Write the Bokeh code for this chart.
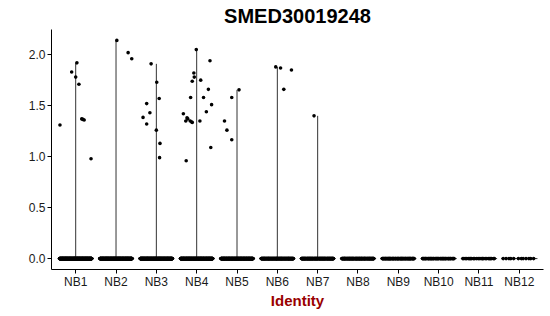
from bokeh.plotting import figure
from bokeh.models import FixedTicker
from bokeh.embed import file_html
from bokeh.resources import INLINE

categories = ["NB1", "NB2", "NB3", "NB4", "NB5", "NB6", "NB7", "NB8", "NB9", "NB10", "NB11", "NB12"]

# number of cells with zero expression per identity (estimated)
zero_counts = [300, 280, 260, 250, 220, 150, 140, 120, 80, 50, 25, 12]

# non-zero expression values per identity
nz_values = {
    "NB1": [1.31, 1.83, 1.92, 1.78, 1.71, 1.37, 1.365, 1.36, 0.98],
    "NB2": [2.14, 2.02, 1.96],
    "NB3": [1.91, 1.73, 1.57, 1.52, 1.43, 1.385, 1.32, 1.26, 1.13, 0.99],
    "NB4": [2.05, 1.94, 1.82, 1.78, 1.74, 1.75, 1.66, 1.58, 1.58, 1.51, 1.44,
            1.42, 1.38, 1.37, 1.35, 1.35, 1.34, 1.335, 1.35, 1.09, 0.96],
    "NB5": [1.655, 1.58, 1.35, 1.26, 1.165],
    "NB6": [1.88, 1.87, 1.85, 1.66],
    "NB7": [1.40],
}
# horizontal jitter of those points (category units)
nz_jitter = {
    "NB1": [-0.39, -0.10, 0.03, 0.0, 0.08, 0.15, 0.18, 0.21, 0.38],
    "NB2": [0.02, 0.30, 0.39],
    "NB3": [-0.13, 0.01, 0.07, -0.24, -0.16, -0.33, -0.24, 0.0, 0.09, 0.08],
    "NB4": [-0.01, 0.33, -0.07, -0.06, -0.11, 0.10, 0.29, -0.15, 0.17, 0.37, 0.24,
            -0.33, -0.24, -0.22, -0.27, -0.16, -0.12, -0.11, 0.08, 0.35, -0.26],
    "NB5": [0.05, -0.13, -0.31, -0.25, -0.13],
    "NB6": [-0.04, 0.08, 0.35, 0.16],
    "NB7": [-0.09],
}

y_ticks = [0.0, 0.5, 1.0, 1.5, 2.0]

# build point table
xs, ys = [], []
for i, cat in enumerate(categories):
    n = zero_counts[i]
    for k in range(n):
        off = ((k * 0.6180339887) % 1.0) * 0.8 - 0.4
        xs.append(i + 1 + off)
        ys.append(0.0)
    for v, j in zip(nz_values.get(cat, []), nz_jitter.get(cat, [])):
        xs.append(i + 1 + j)
        ys.append(v)

# flattened violins: vertical spine from 0 to max, horizontal base at 0
vx, vy0, vy1 = [], [], []
for i, cat in enumerate(categories):
    vals = nz_values.get(cat, [])
    if vals:
        vx.append(i + 1)
        vy0.append(0.0)
        vy1.append(max(vals))
hx0 = [i + 1 - 0.45 for i in range(len(categories))]
hx1 = [i + 1 + 0.45 for i in range(len(categories))]
hy = [0.0] * len(categories)

all_max = max(max(v) for v in nz_values.values())
pad = all_max * 0.05

p = figure(width=550, height=316, output_backend="svg", toolbar_location=None,
           x_range=(0.4, len(categories) + 0.6), y_range=(-pad, all_max + pad),
           title="SMED30019248",
           min_border_left=51, min_border_right=7, min_border_top=28, min_border_bottom=47)

p.segment(x0=vx, y0=vy0, x1=vx, y1=vy1, line_color="#333333", line_width=1)
p.segment(x0=hx0, y0=hy, x1=hx1, y1=hy, line_color="#333333", line_width=1)
p.scatter(x=xs, y=ys, size=3.6, color="black", line_width=0)

font = "Liberation Sans"
p.title.text_font = font
p.title.text_font_size = "20px"
p.title.text_font_style = "bold"
p.title.align = "center"
p.title.text_color = "black"
p.title.standoff = 5

p.xgrid.visible = False
p.ygrid.visible = False
p.outline_line_color = None
p.background_fill_color = "white"
p.border_fill_color = "white"

p.xaxis.ticker = FixedTicker(ticks=list(range(1, len(categories) + 1)))
p.xaxis.major_label_overrides = {i + 1: c for i, c in enumerate(categories)}
p.yaxis.ticker = FixedTicker(ticks=y_ticks)
p.yaxis.major_label_overrides = {t: f"{t:.1f}" for t in y_ticks}

for ax in (p.xaxis, p.yaxis):
    ax.axis_line_color = "black"
    ax.axis_line_width = 1
    ax.major_tick_line_color = "black"
    ax.major_tick_in = 0
    ax.major_tick_out = 4
    ax.minor_tick_line_color = None
    ax.major_label_text_font = font
    ax.major_label_text_font_size = "12px"
    ax.major_label_text_color = "#1a1a1a"
    ax.major_label_standoff = 2

p.xaxis.major_label_standoff = 1

p.xaxis.axis_label = "Identity"
p.xaxis.axis_label_text_font = font
p.xaxis.axis_label_text_font_size = "15px"
p.xaxis.axis_label_text_font_style = "bold"
p.xaxis.axis_label_text_color = "#990000"
p.xaxis.axis_label_standoff = 0

open("out.html", "w").write(file_html(p, INLINE))
